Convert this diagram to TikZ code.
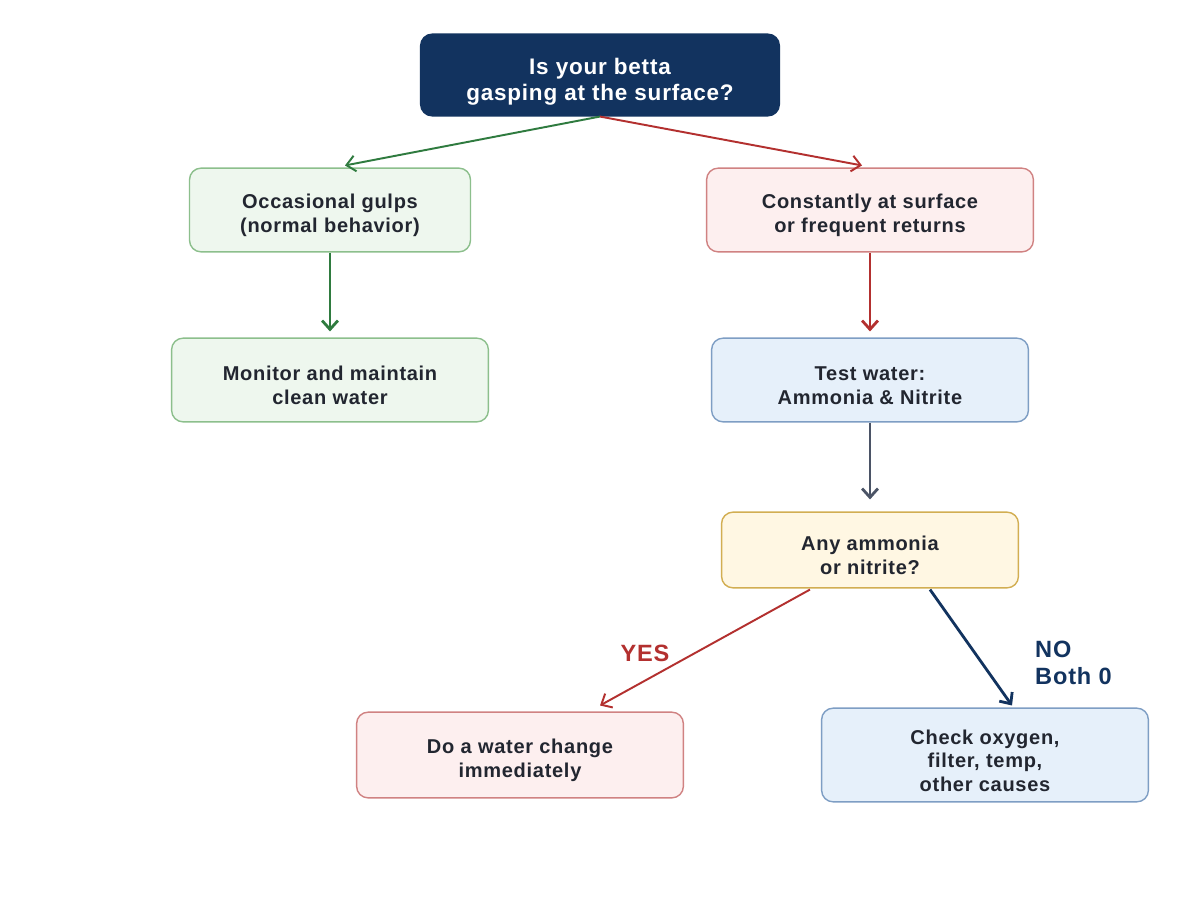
\documentclass[tikz,border=0pt]{standalone}
\usepackage{fontspec}
\setmainfont{Liberation Sans}[LetterSpace=3.5]
\usetikzlibrary{arrows.meta,calc}
\definecolor{navy}{HTML}{12335F}
\definecolor{txt}{HTML}{222630}
\definecolor{gfill}{HTML}{EEF7EE}
\definecolor{gline}{HTML}{8CBF8C}
\definecolor{rfill}{HTML}{FDEFEF}
\definecolor{rline}{HTML}{D08282}
\definecolor{bfill}{HTML}{E6F0FA}
\definecolor{bline}{HTML}{7E9EC4}
\definecolor{yfill}{HTML}{FFF7E3}
\definecolor{yline}{HTML}{D2AE52}
\definecolor{garrow}{HTML}{2F7B3F}
\definecolor{rarrow}{HTML}{B3302F}
\definecolor{grarrow}{HTML}{4B5466}
\newcommand{\dn}{\rule{0pt}{14.8pt}}
\newcommand{\dnt}{\rule{0pt}{17.3pt}}
\tikzset{
  box/.style={draw, line width=0.8pt, rounded corners=6.5pt, align=center, text=txt,
    font=\fontsize{11.4}{13.6}\selectfont\bfseries, inner sep=0pt},
  gbox/.style={box, fill=gfill, draw=gline},
  rbox/.style={box, fill=rfill, draw=rline},
  bbox/.style={box, fill=bfill, draw=bline},
  ybox/.style={box, fill=yfill, draw=yline},
  tip/.style={-{Straight Barb[length=5pt,width=9pt]}},
  thin/.style={tip, line width=1.1pt},
  thick/.style={tip, line width=1.6pt},
  lbl/.style={font=\fontsize{13.4}{15.3}\selectfont\bfseries, align=left}
}
\begin{document}
\begin{tikzpicture}[x=0.02cm,y=-0.02cm]
\useasboundingbox[fill=white] (0,0) rectangle (1200,900);
\node[box, fill=navy, draw=navy, text=white, minimum width=360*0.567pt, minimum height=82*0.567pt,
  font=\fontsize{12.8}{14.8}\selectfont\bfseries] (top) at (600,75) {\dnt Is your betta\\gasping at the surface?};
\node[gbox, minimum width=282*0.567pt, minimum height=84*0.567pt] (occ) at (330,210) {\dn Occasional gulps\\(normal behavior)};
\node[rbox, minimum width=328*0.567pt, minimum height=84*0.567pt] (con) at (870,210) {\dn Constantly at surface\\or frequent returns};
\node[gbox, minimum width=318*0.567pt, minimum height=84*0.567pt] (mon) at (330,380) {\dn Monitor and maintain\\clean water};
\node[bbox, minimum width=318*0.567pt, minimum height=84*0.567pt] (test) at (870,380) {\dn Test water:\\Ammonia \& Nitrite};
\node[ybox, minimum width=298*0.567pt, minimum height=76*0.567pt] (amm) at (870,550) {\dn Any ammonia\\or nitrite?};
\node[rbox, minimum width=328*0.567pt, minimum height=86*0.567pt] (wc) at (520,755) {\dn Do a water change\\immediately};
\node[bbox, minimum width=328*0.567pt, minimum height=94*0.567pt] (chk) at (985,755) {\dn Check oxygen,\\filter, temp,\\other causes};

\draw[thin, draw=garrow] (top.south) -- ($(occ.north)+(15,-2)$);
\draw[thin, draw=rarrow] (top.south) -- ($(con.north)+(-8,-2)$);
\draw[thick, draw=garrow] (occ.south) -- ($(mon.north)+(0,-6)$);
\draw[thick, draw=rarrow] (con.south) -- ($(test.north)+(0,-6)$);
\draw[thick, draw=grarrow] (test.south) -- ($(amm.north)+(0,-12)$);
\draw[thin, draw=rarrow] ($(amm.south)+(-60,1)$) -- ($(wc.north)+(80,-6)$);
\draw[thick, draw=navy] ($(amm.south)+(60,1)$) -- ($(chk.north)+(27,-2)$);

\node[lbl, text=rarrow] (yes) at (645,653) {YES};
\node[lbl, text=navy, anchor=west] (no) at (1029,663) {NO\\Both 0};
\end{tikzpicture}
\end{document}
